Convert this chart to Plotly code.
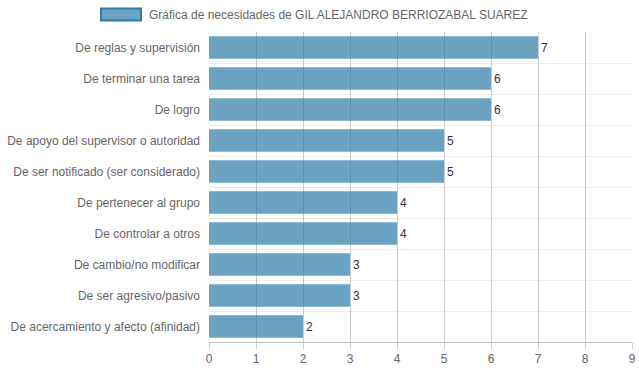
import plotly.graph_objects as go

categories = [
    "De reglas y supervisión",
    "De terminar una tarea",
    "De logro",
    "De apoyo del supervisor o autoridad",
    "De ser notificado (ser considerado)",
    "De pertenecer al grupo",
    "De controlar a otros",
    "De cambio/no modificar",
    "De ser agresivo/pasivo",
    "De acercamiento y afecto (afinidad)",
]
values = [7, 6, 6, 5, 5, 4, 4, 3, 3, 2]
series_name = "Gráfica de necesidades de GIL ALEJANDRO BERRIOZABAL SUAREZ"
x_ticks = list(range(0, 10))

positions = list(range(len(categories)))

fig = go.Figure()
fig.add_trace(go.Bar(
    x=values,
    y=positions,
    orientation="h",
    width=0.72,
    marker=dict(color="rgba(46,124,168,0.7)", line=dict(width=0)),
    text=[str(v) for v in values],
    textposition="outside",
    cliponaxis=False,
    textfont=dict(family="Liberation Sans, Arial, sans-serif", size=12, color="#333"),
    name=series_name,
    showlegend=False,
    hoverinfo="x+y",
))

# plot area spans page x 209..632, y 32..342
fig.update_layout(
    width=639, height=372,
    margin=dict(l=209, r=7, t=32, b=30),
    paper_bgcolor="white",
    plot_bgcolor="white",
    font=dict(family="Liberation Sans, Arial, sans-serif", size=12, color="#666"),
    xaxis=dict(
        range=[0, 9],
        tickvals=x_ticks,
        automargin=False,
        showgrid=True,
        gridcolor="rgba(0,0,0,0.2)",
        gridwidth=1,
        zeroline=False,
        showline=True,
        linecolor="rgba(0,0,0,0.25)",
        ticks="outside",
        ticklen=6,
        tickcolor="rgba(0,0,0,0.2)",
        tickfont=dict(size=12, color="#666"),
    ),
    yaxis=dict(
        range=[len(categories) - 0.5, -0.5],
        tickvals=positions,
        ticktext=categories,
        automargin=False,
        showgrid=False,
        zeroline=False,
        showline=False,
        ticks="",
        ticklabelstandoff=8,
        tickfont=dict(size=12, color="#666"),
        minor=dict(
            tick0=0.5, dtick=1, showgrid=True,
            gridcolor="rgba(0,0,0,0.07)", gridwidth=1,
        ),
    ),
    shapes=[dict(
        type="rect", xref="paper", yref="paper",
        x0=-(209 - 101) / 423, x1=-(209 - 141) / 423,
        y0=1 + (32 - 20.5) / 310, y1=1 + (32 - 8.5) / 310,
        fillcolor="rgba(46,124,168,0.7)",
        line=dict(color="rgb(46,124,168)", width=2),
    )],
    annotations=[dict(
        text=series_name,
        xref="paper", yref="paper",
        x=-(209 - 147) / 423, y=1 + (32 - 14.5) / 310,
        xanchor="left", yanchor="middle",
        showarrow=False,
        font=dict(size=12, color="#666"),
    )],
)

fig.write_html(
    "out.html",
    config={"displayModeBar": False},
    post_script="document.body.style.margin='0px';document.body.style.overflow='hidden';",
)
